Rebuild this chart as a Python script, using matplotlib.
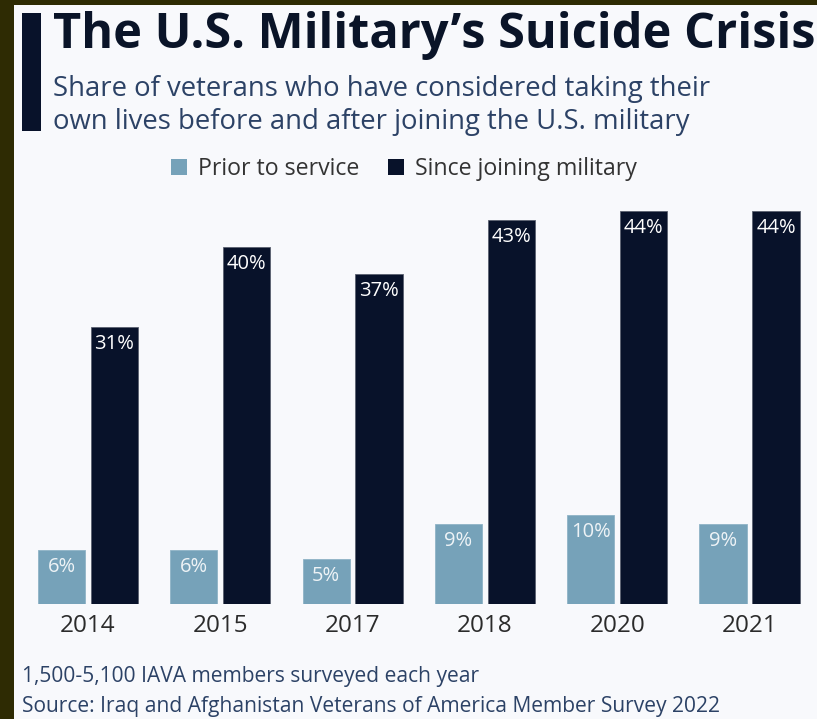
import matplotlib.pyplot as plt
import matplotlib.patches as patches
import numpy as np

years = ["2014", "2015", "2017", "2018", "2020", "2021"]
prior = [6, 6, 5, 9, 10, 9]
since = [31, 40, 37, 43, 44, 44]

W, H = 817, 719
LIGHT = "#76a2b9"
DARK = "#08122a"
TEXT_BLUE = "#2c4266"

plt.rcParams['font.family'] = ['Open Sans', 'DejaVu Sans']

def fx(x):
	return x / W

def fy(y):
	return 1 - y / H

fig = plt.figure(figsize=(W / 100, H / 100), dpi=100)
fig.patch.set_facecolor("#2e2b03")

# light page background, olive frame only on left and top
fig.patches.append(patches.Rectangle((fx(14), 0), 1 - fx(14), fy(5), transform=fig.transFigure,
	facecolor="#f8f9fc", edgecolor="none", zorder=-1))
# dark accent bar next to the title
fig.patches.append(patches.Rectangle((fx(22), fy(131)), fx(41) - fx(22), fy(13) - fy(131),
	transform=fig.transFigure, facecolor=DARK, edgecolor="none", zorder=1))

fig.text(fx(53), fy(48), "The U.S. Military\u2019s Suicide Crisis", fontsize=35.1, fontweight="bold",
	color="#0a1428", va="baseline", ha="left")
fig.text(fx(53), fy(96), "Share of veterans who have considered taking their", fontsize=19.8,
	color=TEXT_BLUE, va="baseline", ha="left")
fig.text(fx(53), fy(129), "own lives before and after joining the U.S. military", fontsize=19.8,
	color=TEXT_BLUE, va="baseline", ha="left")

# legend
fig.patches.append(patches.Rectangle((fx(171), fy(175)), fx(16), 16 / H, transform=fig.transFigure,
	facecolor=LIGHT, edgecolor="none", zorder=2))
fig.text(fx(198), fy(175), "Prior to service", fontsize=16.7, color="#333333", va="baseline")
fig.patches.append(patches.Rectangle((fx(388), fy(175)), fx(16), 16 / H, transform=fig.transFigure,
	facecolor=DARK, edgecolor="none", zorder=2))
fig.text(fx(415), fy(175), "Since joining military", fontsize=16.7, color="#333333", va="baseline")

# bar axes: group spacing 132.3 px, baseline at y=604
gap = 132.3
ax = fig.add_axes([fx(88 - gap / 2), fy(604), (6 * gap) / W, (604 - 157.5) / H])
ax.set_zorder(3)
ax.set_facecolor("none")
x = np.arange(len(years))
bw = 0.357
off = 0.2
b1 = ax.bar(x - off, prior, bw, color=LIGHT, edgecolor="#8fb3c6", linewidth=0.6)
b2 = ax.bar(x + off, since, bw, color=DARK, edgecolor="#5a6070", linewidth=0.6)
ax.set_xlim(-0.5, len(years) - 0.5)
ax.set_ylim(0, 50)

for xi, v in zip(x - off, prior):
	ax.annotate(f"{v}%", (xi, v), xytext=(0, -7), textcoords="offset pixels", ha="center", va="top",
		fontsize=14.5, color="#eef3f6")
for xi, v in zip(x + off, since):
	ax.annotate(f"{v}%", (xi, v), xytext=(0, -7), textcoords="offset pixels", ha="center", va="top",
		fontsize=14.5, color="white")

ax.set_xticks(x, years)
ax.tick_params(axis="x", length=0, pad=7, labelsize=17.5, labelcolor="#2b2b2b")
ax.set_yticks([])
for s in ax.spines.values():
	s.set_visible(False)

fig.text(fx(22), fy(682), "1,500-5,100 IAVA members surveyed each year", fontsize=15.1,
	color=TEXT_BLUE, va="baseline")
fig.text(fx(22), fy(712), "Source: Iraq and Afghanistan Veterans of America Member Survey 2022", fontsize=15.1,
	color=TEXT_BLUE, va="baseline")

fig.savefig("out.png", dpi=100, facecolor=fig.get_facecolor())
